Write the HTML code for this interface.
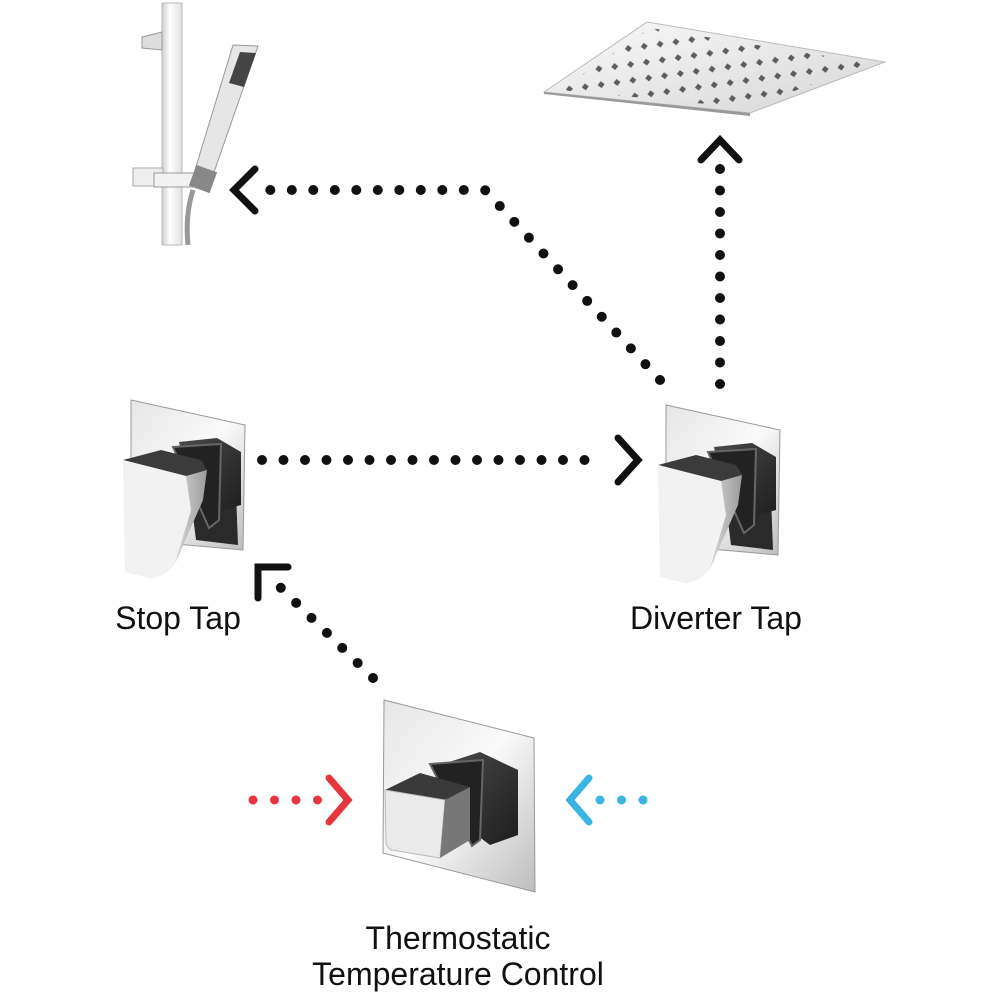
<!DOCTYPE html>
<html><head><meta charset="utf-8"><style>
html,body{margin:0;padding:0;background:#fff;}
svg{display:block;}
text{font-family:"Liberation Sans",sans-serif;fill:#111;}
</style></head><body>
<svg width="1000" height="1000" viewBox="0 0 1000 1000" xmlns="http://www.w3.org/2000/svg">
<defs>
<linearGradient id="plate" x1="0" y1="0" x2="1" y2="1">
<stop offset="0" stop-color="#e6e6e6"/><stop offset="0.5" stop-color="#fafafa"/><stop offset="1" stop-color="#bdbdbd"/>
</linearGradient>
<linearGradient id="dark" x1="0" y1="0" x2="1" y2="1">
<stop offset="0" stop-color="#4a4a4a"/><stop offset="1" stop-color="#1e1e1e"/>
</linearGradient>
<linearGradient id="face" x1="0" y1="0" x2="1" y2="0">
<stop offset="0" stop-color="#f4f4f4"/><stop offset="0.6" stop-color="#dcdcdc"/><stop offset="1" stop-color="#9a9a9a"/>
</linearGradient>
<linearGradient id="rail" x1="0" y1="0" x2="1" y2="0">
<stop offset="0" stop-color="#cfcfcf"/><stop offset="0.4" stop-color="#fff"/><stop offset="1" stop-color="#e0e0e0"/>
</linearGradient>
<linearGradient id="head" x1="0" y1="0" x2="1" y2="1">
<stop offset="0" stop-color="#fafafa"/><stop offset="1" stop-color="#d6d6d6"/>
</linearGradient>
<pattern id="holes" width="16" height="16" patternUnits="userSpaceOnUse" patternTransform="rotate(-8)">
<rect x="5" y="5" width="5" height="5" fill="#444" transform="rotate(45 7.5 7.5)"/>
</pattern>
<g id="lever">
<polygon points="0,0 114,25 112,150 0,140" fill="url(#plate)" stroke="#999" stroke-width="1"/>
<polygon points="60,100 105,92 107,145 65,140" fill="#2a2a2a"/>
<polygon points="48,42 86,38 110,52 110,105 85,112 60,100" fill="url(#dark)"/>
<polygon points="42,47 90,44 88,120 78,128" fill="#222" stroke="#666" stroke-width="2"/>
<polygon points="-8,60 30,50 70,60 76,70 55,76 -4,68" fill="#3b3b3b"/>
<path d="M-8,60 L55,76 L76,70 L72,100 L50,150 Q42,175 20,178 L-6,172 Z" fill="url(#face)"/>
<path d="M-8,60 L55,76 L60,110 L45,160 Q38,176 20,178 L-6,172 Z" fill="#f2f2f2"/>
</g>
</defs>

<!-- hand shower rail -->
<rect x="162" y="3" width="20" height="242" fill="url(#rail)" stroke="#bbb" stroke-width="1"/>
<polygon points="142,37 162,32 162,50 142,48" fill="#ddd" stroke="#999"/>
<rect x="133" y="168" width="30" height="18" fill="#eee" stroke="#aaa"/>
<rect x="154" y="173" width="52" height="14" fill="#f2f2f2" stroke="#999"/>
<polygon points="233,45 258,46 213,175 195,170" fill="#e6e6e6" stroke="#999"/>
<polygon points="240,52 256,53 244,87 229,83" fill="#444"/>
<rect x="192" y="168" width="22" height="22" fill="#888" transform="rotate(20 203 179)"/>
<path d="M193,190 Q185,215 188,245" stroke="#999" stroke-width="5" fill="none"/>

<!-- overhead shower -->
<polygon points="544,92 647,22 885,62 750,113" fill="url(#head)" stroke="#bbb" stroke-width="1"/>
<polygon points="560,90 650,28 870,63 748,108" fill="url(#holes)" opacity="0.85"/>
<polygon points="544,92 750,113 750,116 544,94" fill="#999"/>

<!-- taps -->
<use href="#lever" x="131" y="400"/>
<use href="#lever" x="666" y="405"/>

<!-- thermostatic -->
<polygon points="384,700 534,738 535,892 383,853" fill="url(#plate)" stroke="#999"/>
<polygon points="440,765 480,752 518,770 518,835 490,845 470,830" fill="url(#dark)"/>
<polygon points="430,764 483,760 480,840 472,846" fill="#222" stroke="#666" stroke-width="2"/>
<polygon points="385,790 420,773 470,787 445,800" fill="#3a3a3a"/>
<path d="M385,790 L445,800 L440,858 L392,850 Q386,848 386,840 Z" fill="#eaeaea" stroke="#bbb"/>
<polygon points="445,800 470,787 470,840 440,858" fill="#777"/>

<!-- dotted connectors -->
<g stroke="#111" stroke-width="10" stroke-linecap="round" fill="none" stroke-dasharray="0 21.5">
<line x1="262" y1="460" x2="606" y2="460"/>
<polyline points="660,380 485,190 262,190"/>
<line x1="720" y1="384" x2="720" y2="168"/>
<line x1="373" y1="678" x2="280" y2="587"/>
</g>
<g stroke="#111" stroke-width="7" stroke-linecap="round" stroke-linejoin="miter" fill="none">
<polyline points="618,438 638,460 618,482"/>
<polyline points="255,169 234,190 255,211"/>
<polyline points="701,160 720,140 739,160"/>
<polyline points="288,567 258,567 258,598"/>
</g>
<g stroke="#e8343c" stroke-width="9" stroke-linecap="round" fill="none">
<line x1="253" y1="800" x2="318" y2="800" stroke-dasharray="0 21.5"/>
<polyline points="329,778 348,800 329,822" stroke-width="7"/>
</g>
<g stroke="#3ab4e0" stroke-width="9" stroke-linecap="round" fill="none">
<line x1="600" y1="800" x2="664" y2="800" stroke-dasharray="0 21.5"/>
<polyline points="589,778 570,800 589,822" stroke-width="7"/>
</g>

<!-- labels -->
<text x="178" y="629" font-size="32" text-anchor="middle">Stop Tap</text>
<text x="716" y="629" font-size="32" text-anchor="middle">Diverter Tap</text>
<text x="458" y="949" font-size="32" text-anchor="middle">Thermostatic</text>
<text x="458" y="985" font-size="32" text-anchor="middle">Temperature Control</text>
</svg>
</body></html>
